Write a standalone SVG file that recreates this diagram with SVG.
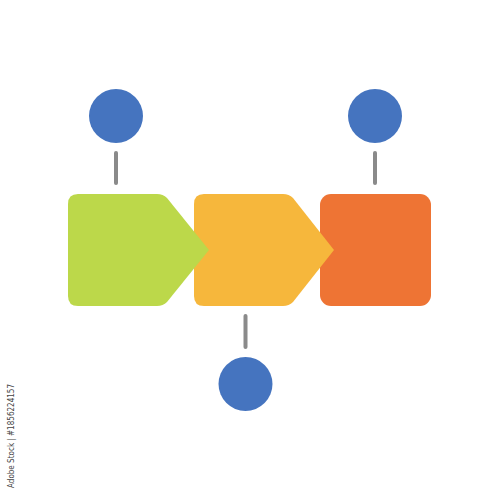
<svg xmlns="http://www.w3.org/2000/svg" width="500" height="500" viewBox="0 0 500 500">
<style>
.stem{stroke:#8a8a8a;stroke-width:4;stroke-linecap:round;fill:none}
.dot{fill:#4574bf}
.wm{font-family:"DejaVu Sans",sans-serif;font-size:8px;fill:#444}
</style>
<rect width="500" height="500" fill="#ffffff"/>
<g id="connectors">
<line class="stem" x1="116" y1="153" x2="116" y2="183"/>
<line class="stem" x1="375" y1="153" x2="375" y2="183"/>
<line class="stem" x1="245.5" y1="316" x2="245.5" y2="347"/>
</g>
<g id="step3">
<rect x="320" y="194" width="111" height="112" rx="11" fill="#ee7434"/>
</g>
<g id="step2">
<path d="M204,194 H283 Q289,194 293,198 L334,250 L293,302 Q289,306 283,306 H204 Q194,306 194,296 V204 Q194,194 204,194 Z" fill="#f6b73c"/>
</g>
<g id="step1">
<path d="M78,194 H157 Q163,194 167,198 L209,250 L167,302 Q163,306 157,306 H78 Q68,306 68,296 V204 Q68,194 78,194 Z" fill="#bcd84a"/>
</g>
<g id="dot1"><circle class="dot" cx="116" cy="116" r="27"/></g>
<g id="dot2"><circle class="dot" cx="375" cy="116" r="27"/></g>
<g id="dot3"><circle class="dot" cx="245.5" cy="384" r="27"/></g>
<text class="wm" transform="translate(14,488) rotate(-90)" textLength="104" lengthAdjust="spacingAndGlyphs">Adobe Stock | #1856224157</text>
</svg>
